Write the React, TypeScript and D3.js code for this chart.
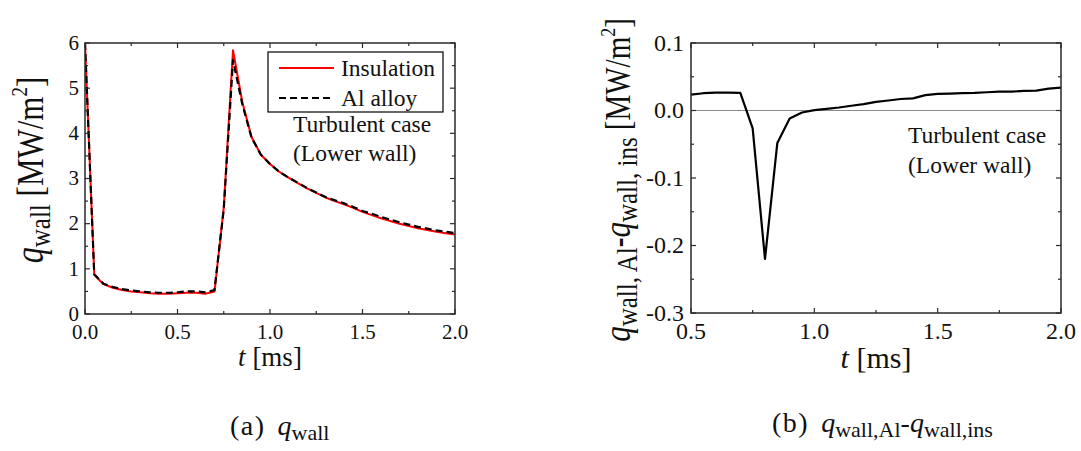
import React from 'react';
import * as d3 from 'd3';

// ---------- data ----------
const tA = [0.00, 0.05, 0.10, 0.15, 0.20, 0.25, 0.30, 0.35, 0.40, 0.45, 0.50, 0.55, 0.60, 0.65, 0.70, 0.75, 0.80, 0.85, 0.90, 0.95, 1.00, 1.05, 1.10, 1.15, 1.20, 1.25, 1.30, 1.35, 1.40, 1.45, 1.50, 1.55, 1.60, 1.65, 1.70, 1.75, 1.80, 1.85, 1.90, 1.95, 2.00];
const qIns = [6.0, 0.87, 0.66, 0.58, 0.53, 0.50, 0.48, 0.46, 0.45, 0.45, 0.46, 0.47, 0.47, 0.45, 0.50, 2.35, 5.84, 4.70, 3.92, 3.53, 3.32, 3.15, 3.02, 2.90, 2.78, 2.68, 2.58, 2.50, 2.43, 2.35, 2.26, 2.19, 2.12, 2.06, 2.00, 1.95, 1.90, 1.86, 1.82, 1.79, 1.76];
const qAl = [6.0, 0.88, 0.67, 0.60, 0.55, 0.52, 0.50, 0.48, 0.47, 0.47, 0.48, 0.50, 0.50, 0.48, 0.53, 2.32, 5.62, 4.65, 3.91, 3.53, 3.32, 3.15, 3.02, 2.91, 2.79, 2.69, 2.59, 2.52, 2.45, 2.37, 2.28, 2.22, 2.15, 2.09, 2.03, 1.98, 1.93, 1.89, 1.85, 1.82, 1.79];

const tB = [0.50, 0.55, 0.60, 0.65, 0.70, 0.75, 0.80, 0.85, 0.90, 0.95, 1.00, 1.05, 1.10, 1.15, 1.20, 1.25, 1.30, 1.35, 1.40, 1.45, 1.50, 1.55, 1.60, 1.65, 1.70, 1.75, 1.80, 1.85, 1.90, 1.95, 2.00];
const dQ = [0.0236, 0.0256, 0.0266, 0.0266, 0.026, -0.0266, -0.22, -0.048, -0.012, -0.003, 0.0005, 0.0025, 0.0044, 0.007, 0.0094, 0.0128, 0.0148, 0.017, 0.018, 0.0227, 0.0246, 0.025, 0.0256, 0.026, 0.027, 0.028, 0.028, 0.029, 0.0295, 0.0325, 0.034];

// ---------- ticks ----------
const aXTicks = [0, 0.5, 1.0, 1.5, 2.0];
const aXLabels = ['0.0', '0.5', '1.0', '1.5', '2.0'];
const aXMinor = [0.25, 0.75, 1.25, 1.75];
const aYTicks = [0, 1, 2, 3, 4, 5, 6];
const aYLabels = ['0', '1', '2', '3', '4', '5', '6'];
const aYMinor = [0.5, 1.5, 2.5, 3.5, 4.5, 5.5];

const bXTicks = [0.5, 1.0, 1.5, 2.0];
const bXLabels = ['0.5', '1.0', '1.5', '2.0'];
const bXMinor = [0.75, 1.25, 1.75];
const bYTicks = [-0.3, -0.2, -0.1, 0.0, 0.1];
const bYLabels = ['-0.3', '-0.2', '-0.1', '0.0', '0.1'];
const bYMinor = [-0.25, -0.15, -0.05, 0.05];

const legendNames = ['Insulation', 'Al alloy'];

const FONT = '"Liberation Serif", "Times New Roman", serif';
const FRAME = '#2a2a2a';

type AxProps = {
  x: d3.ScaleLinear<number, number>;
  y: d3.ScaleLinear<number, number>;
  xTicks: number[]; xLabels: string[]; xMinor: number[];
  yTicks: number[]; yLabels: string[]; yMinor: number[];
  fs: number; xLabOff: number; yLabGap: number;
};

function Axes(p: AxProps) {
  const [x0, x1] = p.x.range();
  const [y0, y1] = p.y.range(); // y0 bottom, y1 top
  const MJ = 5, MN = 3;
  const els: React.ReactNode[] = [];
  const tick = (key: string, a: number, b: number, c: number, d: number) =>
    els.push(<line key={key} x1={a} y1={b} x2={c} y2={d} stroke={FRAME} strokeWidth={1.2} />);
  p.xTicks.forEach((v, i) => {
    const X = p.x(v);
    tick('xb' + i, X, y0, X, y0 - MJ);
    tick('xt' + i, X, y1, X, y1 + MJ);
  });
  p.xMinor.forEach((v, i) => {
    const X = p.x(v);
    tick('xbm' + i, X, y0, X, y0 - MN);
    tick('xtm' + i, X, y1, X, y1 + MN);
  });
  p.yTicks.forEach((v, i) => {
    const Y = p.y(v);
    tick('yl' + i, x0, Y, x0 + MJ, Y);
    tick('yr' + i, x1, Y, x1 - MJ, Y);
  });
  p.yMinor.forEach((v, i) => {
    const Y = p.y(v);
    tick('ylm' + i, x0, Y, x0 + MN, Y);
    tick('yrm' + i, x1, Y, x1 - MN, Y);
  });
  return (
    <g>
      {els}
      <rect x={x0} y={y1} width={x1 - x0} height={y0 - y1} fill="none" stroke={FRAME} strokeWidth={1.5} />
      {p.xTicks.map((v, i) => (
        <text key={'xl' + i} x={p.x(v)} y={y0 + p.xLabOff} textAnchor="middle" fontSize={p.fs} fontFamily={FONT} fill="#111">
          {p.xLabels[i]}
        </text>
      ))}
      {p.yTicks.map((v, i) => (
        <text key={'yl' + i} x={x0 - p.yLabGap} y={p.y(v)} dy="0.32em" textAnchor="end" fontSize={p.fs} fontFamily={FONT} fill="#111">
          {p.yLabels[i]}
        </text>
      ))}
    </g>
  );
}

export default function App() {
  const W = 1081, H = 451;

  const xa = d3.scaleLinear().domain([0, 2]).range([85, 455]);
  const ya = d3.scaleLinear().domain([0, 6]).range([314, 43]);
  const xb = d3.scaleLinear().domain([0.5, 2]).range([691, 1061]);
  const yb = d3.scaleLinear().domain([-0.3, 0.1]).range([313, 43]);

  const lineA = d3.line<number>().x((_, i) => xa(tA[i])).y((d) => ya(d));
  const lineB = d3.line<number>().x((_, i) => xb(tB[i])).y((d) => yb(d));

  const SX = 1.22; // horizontal stretch of rotated labels

  return (
    <svg width={W} height={H} style={{ position: 'absolute', left: 0, top: 0, background: '#fff' }} fontFamily={FONT}>
      <rect x={0} y={0} width={W} height={H} fill="#fff" />
      <defs>
        <clipPath id="clipA"><rect x={85} y={43} width={370} height={271} /></clipPath>
        <clipPath id="clipB"><rect x={691} y={43} width={370} height={270} /></clipPath>
      </defs>
      {/* ---------- panel (a) ---------- */}
      <g clipPath="url(#clipA)">
        <path d={lineA(qIns) || ''} fill="none" stroke="#ff0000" strokeWidth={2} strokeLinejoin="round" />
        <path d={lineA(qAl) || ''} fill="none" stroke="#000" strokeWidth={2.2} strokeDasharray="7 4" strokeLinejoin="round" />
      </g>
      <Axes x={xa} y={ya} xTicks={aXTicks} xLabels={aXLabels} xMinor={aXMinor}
        yTicks={aYTicks} yLabels={aYLabels} yMinor={aYMinor} fs={21} xLabOff={25} yLabGap={6} />
      {/* legend */}
      <rect x={268} y={52} width={175} height={60} fill="#fff" stroke="#000" strokeWidth={1.2} />
      <line x1={279} y1={68} x2={334} y2={68} stroke="#ff0000" strokeWidth={2} />
      <text x={341} y={76} fontSize={23.5} fill="#111">{legendNames[0]}</text>
      <line x1={279} y1={98} x2={334} y2={98} stroke="#000" strokeWidth={2.2} strokeDasharray="7 4" />
      <text x={341} y={106} fontSize={23.5} fill="#111">{legendNames[1]}</text>
      <text x={293} y={132} fontSize={23.5} fill="#111">Turbulent case</text>
      <text x={293} y={161} fontSize={23.5} fill="#111">(Lower wall)</text>
      {/* axis titles */}
      <text x={270} y={366} textAnchor="middle" fontSize={27} fill="#111">
        <tspan fontStyle="italic">t</tspan> [ms]
      </text>
      <text transform={`translate(43,170) scale(${SX},1) rotate(-90)`} textAnchor="middle" fontSize={31} fill="#111">
        <tspan fontStyle="italic" fontSize={32}>q</tspan>
        <tspan fontSize={25} dy={6}>wall</tspan>
        <tspan dy={-6}> [MW/m</tspan>
        <tspan fontSize={19} dy={-13}>2</tspan>
        <tspan dy={13}>]</tspan>
      </text>

      {/* ---------- panel (b) ---------- */}
      <line x1={691} x2={1061} y1={yb(0)} y2={yb(0)} stroke="#8a8a8a" strokeWidth={1} />
      <g clipPath="url(#clipB)">
        <path d={lineB(dQ) || ''} fill="none" stroke="#000" strokeWidth={2.2} strokeLinejoin="round" />
      </g>
      <Axes x={xb} y={yb} xTicks={bXTicks} xLabels={bXLabels} xMinor={bXMinor}
        yTicks={bYTicks} yLabels={bYLabels} yMinor={bYMinor} fs={24} xLabOff={26} yLabGap={7} />
      <text x={908} y={143} fontSize={23.5} fill="#111">Turbulent case</text>
      <text x={908} y={173} fontSize={23.5} fill="#111">(Lower wall)</text>
      <text x={876} y={368} textAnchor="middle" fontSize={30} fill="#111">
        <tspan fontStyle="italic">t</tspan> [ms]
      </text>
      <text transform={`translate(630,180) scale(${SX},1) rotate(-90)`} textAnchor="middle" fontSize={29} fill="#111">
        <tspan fontStyle="italic" fontSize={31}>q</tspan>
        <tspan fontSize={25} dy={6}>wall, Al</tspan>
        <tspan dy={-6} fontWeight="bold">-</tspan>
        <tspan fontStyle="italic" fontSize={31}>q</tspan>
        <tspan fontSize={25} dy={6}>wall, ins</tspan>
        <tspan dy={-6}>  [MW/m</tspan>
        <tspan fontSize={18} dy={-12}>2</tspan>
        <tspan dy={12}>]</tspan>
      </text>

      {/* ---------- captions ---------- */}
      <text x={230} y={435} fontSize={28} fill="#111">
        <tspan letterSpacing={1.5}>(a)</tspan>
        <tspan dx={12} fontStyle="italic">q</tspan>
        <tspan fontSize={22} dy={5}>wall</tspan>
      </text>
      <text x={772} y={432} fontSize={28} fill="#111">
        <tspan letterSpacing={1.5}>(b)</tspan>
        <tspan dx={12} fontStyle="italic">q</tspan>
        <tspan fontSize={22} dy={5}>wall,Al</tspan>
        <tspan dy={-5}>-</tspan>
        <tspan fontStyle="italic">q</tspan>
        <tspan fontSize={22} dy={5}>wall,ins</tspan>
      </text>
    </svg>
  );
}
